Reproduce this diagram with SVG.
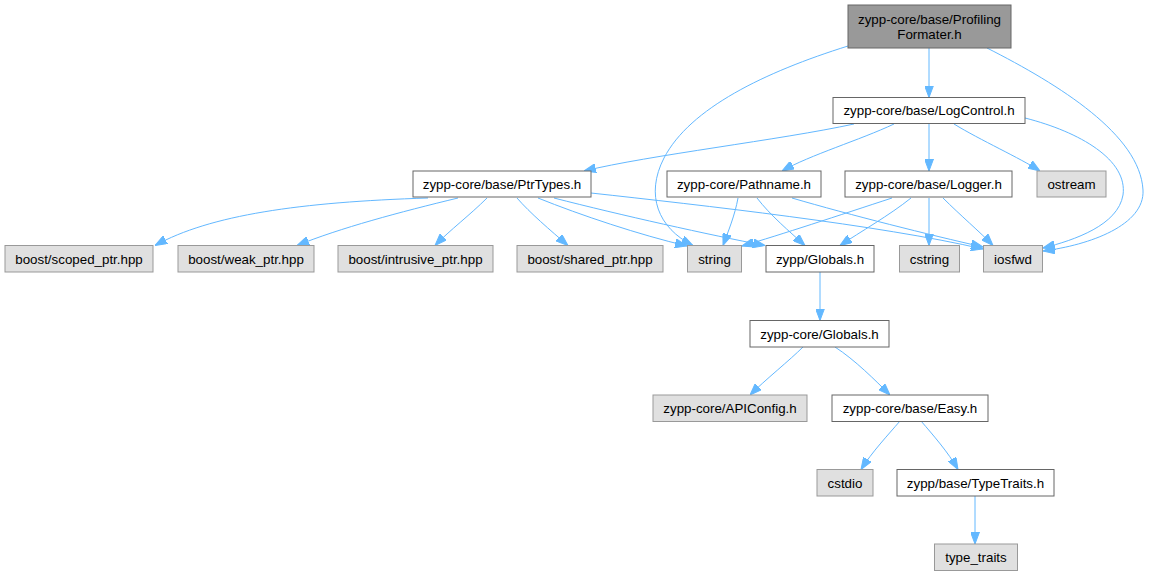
<svg xmlns="http://www.w3.org/2000/svg" width="1149" height="576" viewBox="0 0 1149 576">
<defs>
<marker id="ah" markerUnits="userSpaceOnUse" viewBox="0 0 12 9" refX="12" refY="4.5" markerWidth="12" markerHeight="9" orient="auto">
<path d="M0,0 L12,4.5 L0,9 z" fill="#63b8ff" stroke="#63b8ff" stroke-width="1"/>
</marker>
</defs>
<style>
.n rect{fill:#ffffff;stroke:#666666;stroke-width:1}
.g rect{fill:#e0e0e0;stroke:#999999;stroke-width:1}
.root rect{fill:#999999;stroke:#666666;stroke-width:1}
text{font-family:"Liberation Sans",Arial,Helvetica,sans-serif;font-size:13.33px;fill:#000000;text-anchor:middle}
#edges path{fill:none;stroke:#63b8ff;stroke-width:1;marker-end:url(#ah)}
</style>
<rect x="0" y="0" width="1149" height="576" fill="#ffffff"/>
<g id="edges">
<path d="M929,48 L929,97.5"/>
<path d="M848,46 C765,72 690,108 664,158 C645,195 658,228 693,245.5"/>
<path d="M987,48 C1060,85 1140,135 1143,190 C1145,225 1090,245 1043,251"/>
<path d="M854,124 C780,140 650,155 584,171"/>
<path d="M894,124 C860,140 810,155 782,171"/>
<path d="M929,124 L929,171"/>
<path d="M954,124 C980,140 1020,158 1040,171"/>
<path d="M1025,118 C1080,132 1128,160 1123,195 C1118,225 1075,240 1043,248"/>
<path d="M428,198 C300,202 210,215 155,245.5"/>
<path d="M458,198 C400,212 340,228 297,245.5"/>
<path d="M487,198 C470,215 450,230 435,245.5"/>
<path d="M517,198 C530,213 550,230 568,245.5"/>
<path d="M538,198 C580,215 640,235 687,246"/>
<path d="M554,198 C620,215 710,235 765,245.5"/>
<path d="M591,193 C700,205 880,225 983,249"/>
<path d="M738,198 C735,215 728,232 723,245.5"/>
<path d="M757,198 C770,215 790,232 805,245.5"/>
<path d="M792,198 C850,215 930,235 983,247"/>
<path d="M892,198 C840,215 780,235 742,246"/>
<path d="M911,198 C890,215 860,232 840,245.5"/>
<path d="M929,198 L929,245.5"/>
<path d="M943,198 C960,215 980,232 993,245.5"/>
<path d="M820,272 L820,320.5"/>
<path d="M803,347 C790,360 765,380 750,395"/>
<path d="M835,347 C855,360 875,380 890,395"/>
<path d="M900,421 C888,435 872,452 861,469.5"/>
<path d="M921,421 C933,435 948,452 958,469.5"/>
<path d="M975,496 L975,544"/>
</g>
<g id="node_profilingformater" class="root"><rect x="848" y="5" width="163" height="43"/><text x="929.5" y="24">zypp-core/base/Profiling</text><text x="929.5" y="39">Formater.h</text></g>
<g id="node_logcontrol" class="n"><rect x="833" y="97.5" width="192" height="26"/><text x="929" y="115">zypp-core/base/LogControl.h</text></g>
<g id="node_ptrtypes" class="n"><rect x="413" y="171" width="178" height="26"/><text x="502" y="188.5">zypp-core/base/PtrTypes.h</text></g>
<g id="node_pathname" class="n"><rect x="667" y="171" width="154" height="26"/><text x="744" y="188.5">zypp-core/Pathname.h</text></g>
<g id="node_logger" class="n"><rect x="845" y="171" width="167" height="26"/><text x="928.5" y="188.5">zypp-core/base/Logger.h</text></g>
<g id="node_ostream" class="g"><rect x="1037" y="171" width="69" height="26"/><text x="1071.5" y="188.5">ostream</text></g>
<g id="node_scoped_ptr" class="g"><rect x="5" y="245.5" width="148" height="26.5"/><text x="79" y="263.5">boost/scoped_ptr.hpp</text></g>
<g id="node_weak_ptr" class="g"><rect x="178" y="245.5" width="136" height="26.5"/><text x="246" y="263.5">boost/weak_ptr.hpp</text></g>
<g id="node_intrusive_ptr" class="g"><rect x="338" y="245.5" width="155" height="26.5"/><text x="415.5" y="263.5">boost/intrusive_ptr.hpp</text></g>
<g id="node_shared_ptr" class="g"><rect x="517" y="245.5" width="146" height="26.5"/><text x="590" y="263.5">boost/shared_ptr.hpp</text></g>
<g id="node_string" class="g"><rect x="687.5" y="245.5" width="54" height="26.5"/><text x="714.5" y="263.5">string</text></g>
<g id="node_zypp_globals" class="n"><rect x="766" y="245.5" width="108" height="26.5"/><text x="820" y="263.5">zypp/Globals.h</text></g>
<g id="node_cstring" class="g"><rect x="899.5" y="245.5" width="60" height="26.5"/><text x="929.5" y="263.5">cstring</text></g>
<g id="node_iosfwd" class="g"><rect x="983.5" y="245.5" width="59" height="26.5"/><text x="1013" y="263.5">iosfwd</text></g>
<g id="node_core_globals" class="n"><rect x="750" y="320.5" width="139" height="26.5"/><text x="819.5" y="338.5">zypp-core/Globals.h</text></g>
<g id="node_apiconfig" class="g"><rect x="653" y="395" width="154" height="26.5"/><text x="730" y="413">zypp-core/APIConfig.h</text></g>
<g id="node_easy" class="n"><rect x="832" y="395" width="156" height="26.5"/><text x="910" y="413">zypp-core/base/Easy.h</text></g>
<g id="node_cstdio" class="g"><rect x="817" y="469.5" width="56" height="26.5"/><text x="845" y="487.5">cstdio</text></g>
<g id="node_typetraits" class="n"><rect x="897" y="469.5" width="157" height="26.5"/><text x="975.5" y="487.5">zypp/base/TypeTraits.h</text></g>
<g id="node_type_traits" class="g"><rect x="934.5" y="544" width="83" height="26.5"/><text x="976" y="562">type_traits</text></g>
</svg>
